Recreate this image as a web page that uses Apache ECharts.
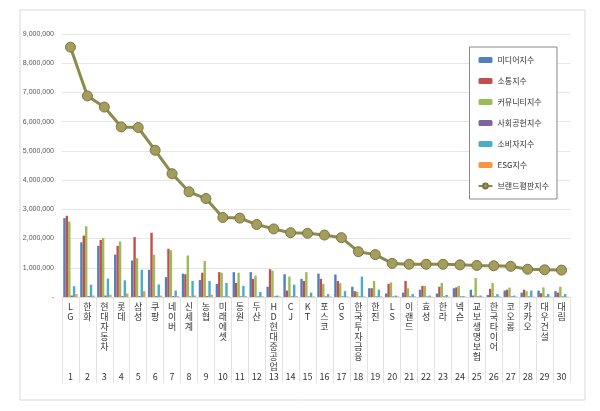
<!DOCTYPE html>
<html><head><meta charset="utf-8">
<script src="https://cdn.jsdelivr.net/npm/echarts@6/dist/echarts.min.js"></script>
<style>html,body{margin:0;background:#fff}#c{width:600px;height:411px}</style>
</head><body><div id="c"></div>
<script>
var categories = ['LG','한화','현대자동차','롯데','삼성','쿠팡','네이버','신세계','농협','미래에셋',
  '동원','두산','HD현대중공업','CJ','KT','포스코','GS','한국투자금융','한진','LS',
  '이랜드','효성','한라','넥슨','교보생명보험','한국타이어','코오롱','카카오','대우건설','대림'];
var media   = [2.70,1.87,1.75,1.45,1.25,0.93,0.68,0.80,0.58,0.45,0.85,0.85,0.35,0.78,0.62,0.80,0.77,0.35,0.30,0.12,0.15,0.25,0.12,0.30,0.25,0.07,0.22,0.15,0.22,0.20];
var comm    = [2.78,2.10,1.95,1.75,2.05,2.20,1.65,0.78,0.83,0.85,0.48,0.62,0.95,0.22,0.55,0.62,0.55,0.20,0.30,0.45,0.55,0.38,0.35,0.33,0.05,0.28,0.25,0.25,0.13,0.15];
var community=[2.58,2.42,2.02,1.90,1.33,1.45,1.60,1.42,1.23,0.83,0.83,0.73,0.90,0.70,0.85,0.45,0.47,0.18,0.55,0.50,0.30,0.38,0.48,0.38,0.65,0.48,0.32,0.20,0.33,0.35];
var social  = [0.05,0.03,0.05,0.03,0.03,0.03,0.03,0.02,0.03,0.02,0.02,0.02,0.02,0.02,0.02,0.02,0.02,0.02,0.02,0.02,0.02,0.02,0.02,0.02,0.02,0.02,0.02,0.02,0.02,0.02];
var consumer= [0.37,0.42,0.63,0.57,0.93,0.43,0.22,0.55,0.55,0.48,0.38,0.17,0.05,0.42,0.15,0.10,0.20,0.70,0.25,0.05,0.10,0.05,0.07,0.03,0.05,0.10,0.05,0.22,0.10,0.10];
var esg     = [0.10,0.05,0.08,0.12,0.20,0.05,0.03,0.05,0.08,0.03,0.03,0.02,0.02,0.03,0.02,0.02,0.02,0.02,0.02,0.02,0.02,0.01,0.01,0.01,0.01,0.02,0.01,0.01,0.01,0.01];
var brand   = [8.55,6.88,6.50,5.82,5.80,5.02,4.22,3.60,3.37,2.72,2.70,2.48,2.33,2.20,2.18,2.12,2.03,1.55,1.45,1.15,1.12,1.12,1.12,1.10,1.08,1.07,1.05,0.95,0.93,0.92];
var seriesNames = ['미디어지수','소통지수','커뮤니티지수','사회공헌지수','소비자지수','ESG지수','브랜드평판지수'];
var colors = ['#4F81BD','#C0504D','#9BBB59','#8064A2','#4BACC6','#F79646','#8C8A4E'];

var M = 1000000;
function toM(a){ return a.map(function(v){ return Math.round(v*M); }); }
var bars = [media, comm, community, social, consumer, esg];
var series = bars.map(function(d,i){
  return { name: seriesNames[i], type: 'bar', data: toM(d), barWidth: 2.4, barGap: '0%', itemStyle: { color: colors[i] } };
});
series.push({ name: seriesNames[6], type: 'line', data: toM(brand), symbol: 'circle', symbolSize: 10,
  lineStyle: { color: '#8C8A4E', width: 3 }, itemStyle: { color: '#A49E5C', borderColor: '#7A7540', borderWidth: 1 } });

var option = {
  animation: false,
  color: colors,
  grid: { left: 62, right: 30, top: 34, bottom: 114 },
  graphic: [{ type: 'rect', shape: { x: 20, y: 10, width: 565, height: 390 }, style: { fill: 'none', stroke: '#d9d9d9' } }],
  legend: {
    orient: 'vertical', right: 43, top: 47, itemWidth: 14, itemHeight: 6, itemGap: 13,
    padding: [9, 8, 9, 8], borderColor: '#888', borderWidth: 1, backgroundColor: '#fff',
    textStyle: { fontSize: 8, color: '#333', fontFamily: 'Noto Sans CJK KR' },
    data: seriesNames
  },
  xAxis: [{
    type: 'category', data: categories, boundaryGap: true,
    axisLine: { lineStyle: { color: '#d9d9d9' } },
    axisTick: { show: true, length: 86, interval: 0, lineStyle: { color: '#e3e3e3' } },
    axisLabel: {
      interval: 0, fontSize: 9, color: '#333', lineHeight: 10, margin: 5, verticalAlign: 'top',
      fontFamily: 'Noto Sans CJK KR',
      formatter: function(v, i){ return v.split('').join('\n') + '\n'.repeat(Math.max(0, 7 - v.length)) + '\n' + (i + 1); }
    }
  }],
  yAxis: {
    type: 'value', min: 0, max: 9000000, interval: 1000000,
    axisLine: { show: false }, axisTick: { show: false },
    splitLine: { lineStyle: { color: '#e6e6e6' } },
    axisLabel: { fontSize: 7, color: '#555', formatter: function(v){ return v === 0 ? '-' : v.toLocaleString('en-US'); } }
  },
  series: series
};

var myChart = echarts.init(document.getElementById('c'));
myChart.setOption(option, true);
</script></body></html>
